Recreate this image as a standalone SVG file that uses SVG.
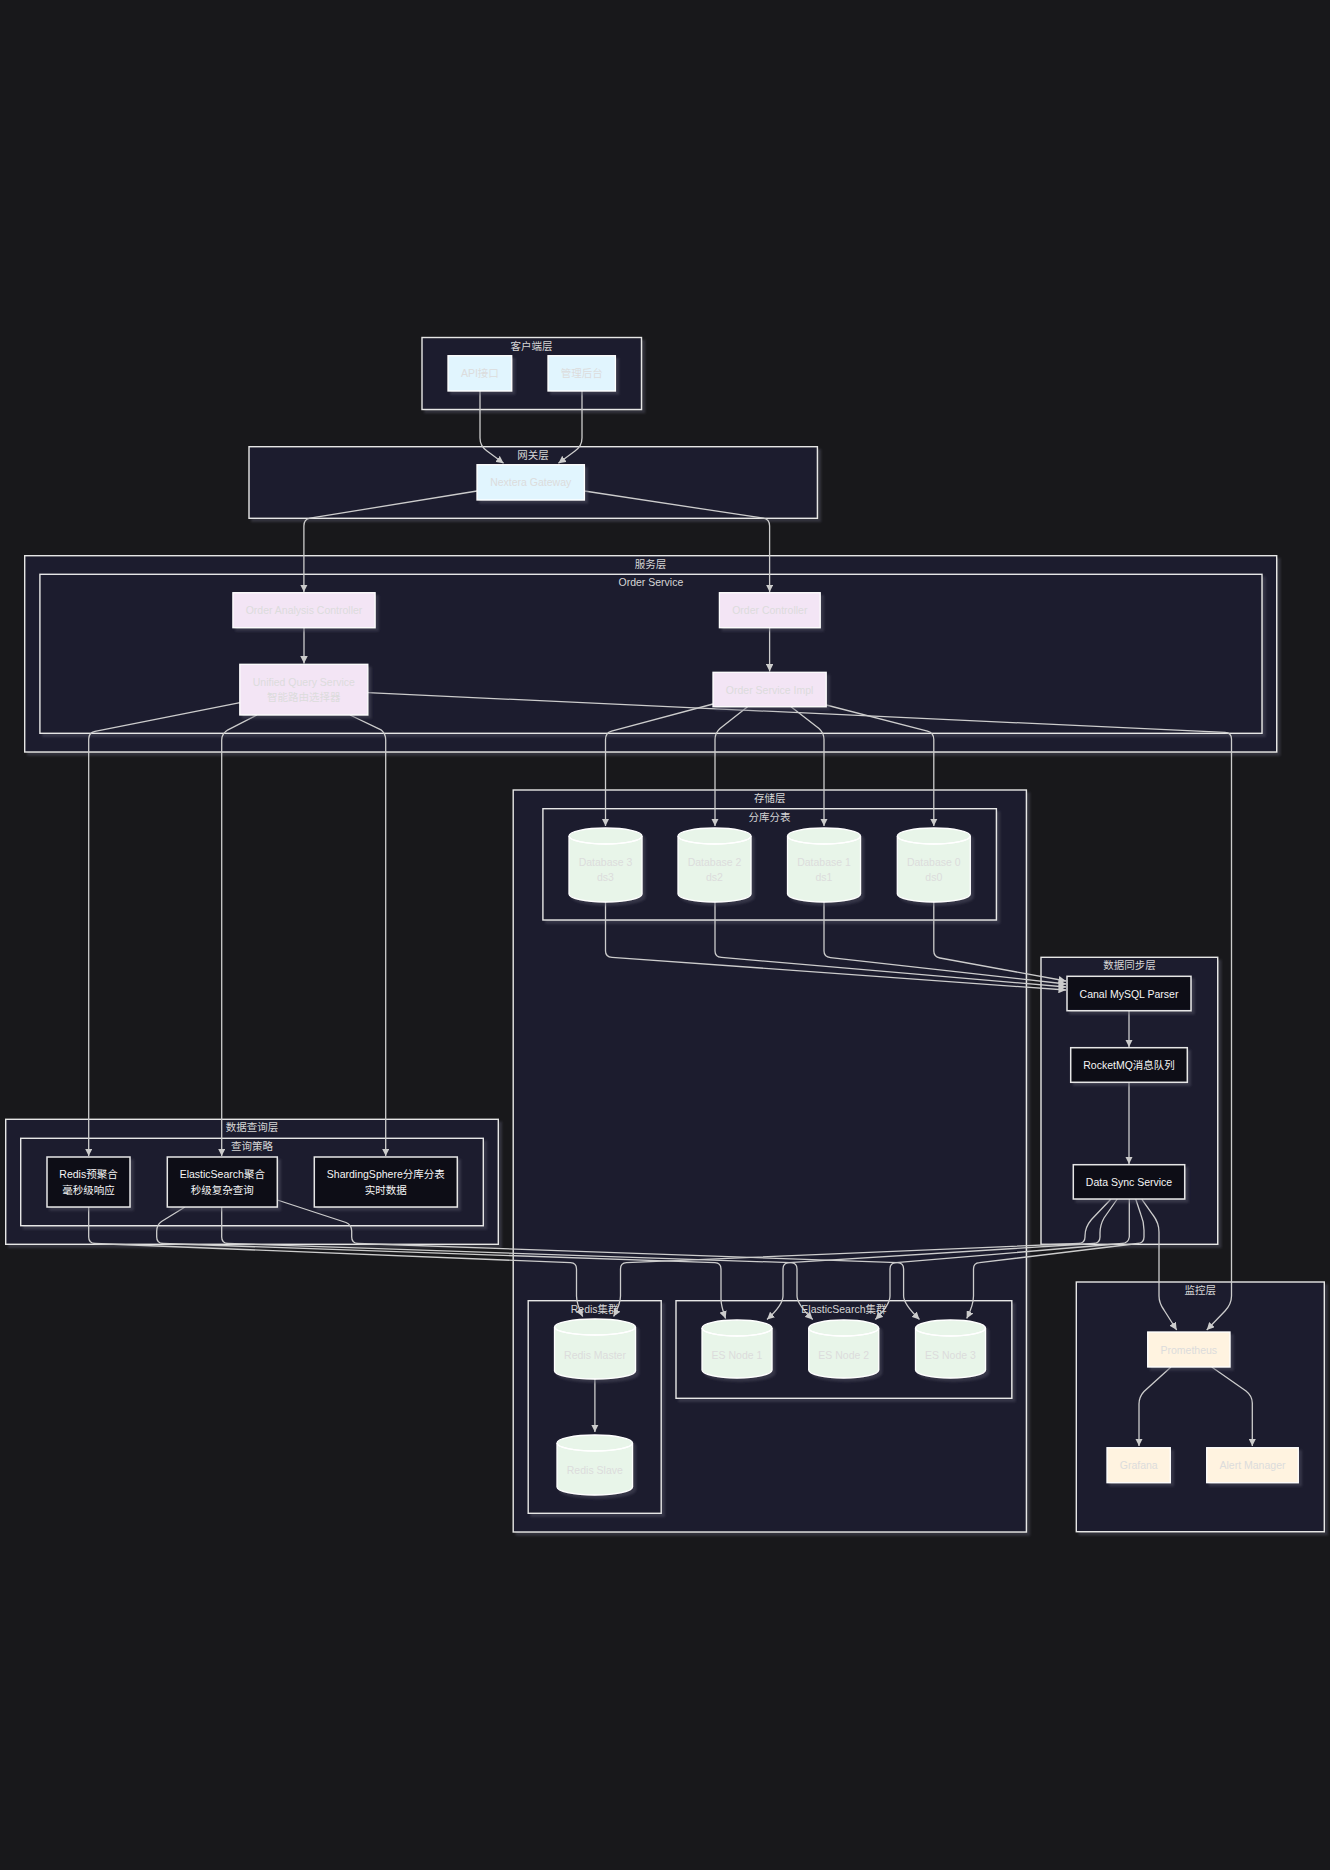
<svg xmlns="http://www.w3.org/2000/svg" width="1330" height="1870" viewBox="0 0 1330 1870">
<defs>
<filter id="sh" x="-10%" y="-10%" width="130%" height="130%">
<feDropShadow dx="3" dy="3" stdDeviation="1.2" flood-color="#555566" flood-opacity="0.45"/>
</filter>
<marker id="arr" viewBox="0 0 10 10" refX="10" refY="5" markerUnits="userSpaceOnUse" markerWidth="7.5" markerHeight="7.5" orient="auto">
<path d="M0,0 L10,5 L0,10 z" fill="#cccccc"/>
</marker>
<style>
text{font-family:"Liberation Sans",Arial,"Noto Sans CJK SC",sans-serif;font-size:10.5px;text-anchor:middle;dominant-baseline:central}
.cl rect{fill:#1e1e2e;stroke:#e6e6e6;stroke-width:1.4;filter:url(#sh)}
.cl text{fill:#d6d6d6}
.nd rect,.nd path{stroke:#ffffff;stroke-width:1.3;filter:url(#sh)}
.nd text{fill:#dcdcdc}
.cli rect{fill:#e1f5fe}
.svc rect{fill:#f3e5f5}
.db path{fill:#e8f5e9}
.db path.top{fill:none;filter:none}
.mon rect{fill:#fff3e0}
.dk rect{fill:#0e0e18;stroke:#e6e6e6;stroke-width:1.5}
.dk text{fill:#f5f5f5}
.edges path{fill:none;stroke:#cccccc;stroke-width:1.3;marker-end:url(#arr)}
</style>
</defs>
<rect x="0" y="0" width="1330" height="1870" fill="#18181b"/>

<g id="clusters">
<g class="cl" id="c-client"><rect x="422" y="337.5" width="219.5" height="72"/><text x="531.6" y="345.5">客户端层</text></g>
<g class="cl" id="c-gateway"><rect x="249" y="446.7" width="568.4" height="71.6"/><text x="533" y="454.5">网关层</text></g>
<g class="cl" id="c-service"><rect x="24.7" y="555.7" width="1252" height="196.3"/><text x="650.6" y="563.5">服务层</text></g>
<g class="cl" id="c-order"><rect x="39.9" y="574.3" width="1222.1" height="159"/><text x="650.9" y="582">Order Service</text></g>
<g class="cl" id="c-storage"><rect x="513.2" y="790" width="513.2" height="742"/><text x="769.8" y="797.8">存储层</text></g>
<g class="cl" id="c-shard"><rect x="542.9" y="808.7" width="453.5" height="111.3"/><text x="769.6" y="816.5">分库分表</text></g>
<g class="cl" id="c-sync"><rect x="1041" y="957.3" width="176.7" height="287"/><text x="1129.4" y="965">数据同步层</text></g>
<g class="cl" id="c-query"><rect x="5.7" y="1119.3" width="492.6" height="125"/><text x="252" y="1127">数据查询层</text></g>
<g class="cl" id="c-strategy"><rect x="20.7" y="1138.3" width="462.6" height="87.4"/><text x="252" y="1146">查询策略</text></g>
<g class="cl" id="c-redis"><rect x="528.2" y="1300.7" width="133" height="212.6"/><text x="594.7" y="1308.5">Redis集群</text></g>
<g class="cl" id="c-es"><rect x="676" y="1300.7" width="335.8" height="97.6"/><text x="843.9" y="1308.5">ElasticSearch集群</text></g>
<g class="cl" id="c-monitor"><rect x="1076.3" y="1282" width="248" height="249.7"/><text x="1200.3" y="1289.8">监控层</text></g>
</g>

<g class="edges" id="connectors">
<path d="M480,391 V438 Q480,446 487,451 L503.6,463.3"/>
<path d="M582,391 V438 Q582,446 575,451 L558.4,463.3"/>
<path d="M477,491 L310,518.2 Q303.9,519.3 303.9,526 V592"/>
<path d="M584.4,491 L763.5,518.2 Q769.6,519.3 769.6,526 V592"/>
<path d="M304,627.7 V663.5"/>
<path d="M769.6,627.7 V671.5"/>
<path d="M240,702.7 L95,731.3 Q88.7,732.7 88.7,739 V1156"/>
<path d="M257,715 L228,729.8 Q221.7,733.5 221.7,740 V1156"/>
<path d="M350,715 L381,729.8 Q385.7,733.5 385.7,740 V1156"/>
<path d="M367.8,692.7 L1225,732.4 Q1231.5,732.8 1231.5,739 V1296 Q1231.5,1304 1225,1311 L1206.7,1330"/>
<path d="M713,704 L611.5,731.2 Q605.5,733 605.5,739.5 V826"/>
<path d="M747.6,706.7 L720,728.5 Q715,733 715,739.5 V826"/>
<path d="M791,706.7 L819,728.5 Q824,733 824,739.5 V826"/>
<path d="M826.2,705 L927.5,731.2 Q933.8,733 933.8,739.5 V826"/>
<path d="M605.5,902 V951 Q605.5,957 612,957.3 L1066,990"/>
<path d="M715,902 V951 Q715,957 721.5,957.4 L1066,987"/>
<path d="M824,902 V951 Q824,957 830.5,957.6 L1066,984"/>
<path d="M933.8,902 V951 Q933.8,957 940,958 L1066,981"/>
<path d="M1129,1010.7 V1047"/>
<path d="M1129,1082.3 V1164"/>
<path d="M88.7,1207 V1237 Q88.7,1243.3 95,1243.5 L570.5,1262.7 Q576.5,1263 576.5,1269 V1296 Q576.5,1304 582.7,1316.5"/>
<path d="M185,1207 L161.5,1221.5 Q156.7,1225 156.7,1231 V1237 Q156.7,1243.3 163,1243.5 L715,1262.7 Q721,1263 721,1269 V1299 Q721,1306 725.6,1318.5"/>
<path d="M221.7,1207 V1237 Q221.7,1243.3 228,1243.5 L791,1262.7 Q797,1263 797,1269 V1296 Q797,1304 812.7,1319.5"/>
<path d="M277.3,1200 L346,1222.5 Q351.7,1225 351.7,1231 V1237 Q351.7,1243.3 358,1243.5 L897.6,1262.7 Q903.6,1263 903.6,1269 V1296 Q903.6,1304 919.5,1319.5"/>
<path d="M1111,1199 L1091.5,1219.5 Q1085,1227 1085,1236 V1237 Q1085,1243.3 1078.5,1243.5 L626.5,1262.7 Q620.5,1263 620.5,1269 V1296 Q620.5,1304 613.6,1316.5"/>
<path d="M1117.3,1199 L1104,1218 Q1100,1225 1100,1233 V1237 Q1100,1243.3 1093.5,1243.5 L789,1262.7 Q783,1263 783,1269 V1296 Q783,1305 767,1319.5"/>
<path d="M1129.3,1199 V1237 Q1128.3,1243.3 1122,1243.5 L896,1262.7 Q890,1263 890,1269 V1296 Q890,1305 875.4,1319.5"/>
<path d="M1135.7,1199 L1141,1215 Q1144,1222 1144,1230 V1237 Q1144,1243.3 1137.5,1243.5 L979.5,1262.7 Q973.5,1263 973.5,1269 V1296 Q973.5,1305 966.7,1318.5"/>
<path d="M1141.7,1199 L1153,1215 Q1159,1223 1159,1232 V1296 Q1159,1303 1164,1310 L1176.7,1330"/>
<path d="M594.9,1379 V1432"/>
<path d="M1171,1367 L1144,1391.5 Q1139,1397 1139,1404 V1446"/>
<path d="M1211.7,1367 L1246,1391 Q1252.3,1396 1252.3,1403 V1446"/>
</g>

<g id="nodes">
<g class="nd cli" id="n-api"><rect x="448" y="355.7" width="63.7" height="35.3"/><text x="479.9" y="373.3">API接口</text></g>
<g class="nd cli" id="n-admin"><rect x="548" y="355.7" width="67.4" height="35.3"/><text x="581.7" y="373.3">管理后台</text></g>
<g class="nd cli" id="n-gateway"><rect x="477" y="464.7" width="107.4" height="35.3"/><text x="530.7" y="482.3">Nextera Gateway</text></g>
<g class="nd svc" id="n-oac"><rect x="232.9" y="592.7" width="142.2" height="35"/><text x="304" y="610.2">Order Analysis Controller</text></g>
<g class="nd svc" id="n-oc"><rect x="719.4" y="592.7" width="100.8" height="35"/><text x="769.8" y="610.2">Order Controller</text></g>
<g class="nd svc" id="n-uqs"><rect x="239.8" y="664.3" width="128" height="50.7"/><text x="303.8" y="681.7">Unified Query Service</text><text x="303.8" y="697">智能路由选择器</text></g>
<g class="nd svc" id="n-osi"><rect x="713" y="672.3" width="113.2" height="34.4"/><text x="769.6" y="689.5">Order Service Impl</text></g>

<g class="nd db" id="n-db3"><path d="M569,836 a36.5,8 0 0 0 73,0 a36.5,8 0 0 0 -73,0 v58 a36.5,8 0 0 0 73,0 v-58"/><path class="top" d="M569,836 a36.5,8 0 0 0 73,0"/><text x="605.5" y="862">Database 3</text><text x="605.5" y="877">ds3</text></g>
<g class="nd db" id="n-db2"><path d="M678,836 a36.5,8 0 0 0 73,0 a36.5,8 0 0 0 -73,0 v58 a36.5,8 0 0 0 73,0 v-58"/><path class="top" d="M678,836 a36.5,8 0 0 0 73,0"/><text x="714.5" y="862">Database 2</text><text x="714.5" y="877">ds2</text></g>
<g class="nd db" id="n-db1"><path d="M787.5,836 a36.5,8 0 0 0 73,0 a36.5,8 0 0 0 -73,0 v58 a36.5,8 0 0 0 73,0 v-58"/><path class="top" d="M787.5,836 a36.5,8 0 0 0 73,0"/><text x="824" y="862">Database 1</text><text x="824" y="877">ds1</text></g>
<g class="nd db" id="n-db0"><path d="M897.3,836 a36.5,8 0 0 0 73,0 a36.5,8 0 0 0 -73,0 v58 a36.5,8 0 0 0 73,0 v-58"/><path class="top" d="M897.3,836 a36.5,8 0 0 0 73,0"/><text x="933.8" y="862">Database 0</text><text x="933.8" y="877">ds0</text></g>

<g class="nd dk" id="n-canal"><rect x="1067" y="976.3" width="124" height="34.4"/><text x="1129" y="993.5">Canal MySQL Parser</text></g>
<g class="nd dk" id="n-mq"><rect x="1070.7" y="1047.7" width="116.6" height="34.6"/><text x="1129" y="1065">RocketMQ消息队列</text></g>
<g class="nd dk" id="n-dss"><rect x="1073.3" y="1164.7" width="111.4" height="34.3"/><text x="1129" y="1181.8">Data Sync Service</text></g>

<g class="nd dk" id="n-qredis"><rect x="47" y="1157" width="83" height="50"/><text x="88.5" y="1174.3">Redis预聚合</text><text x="88.5" y="1189.5">毫秒级响应</text></g>
<g class="nd dk" id="n-qes"><rect x="167.3" y="1157" width="110" height="50"/><text x="222.3" y="1174.3">ElasticSearch聚合</text><text x="222.3" y="1189.5">秒级复杂查询</text></g>
<g class="nd dk" id="n-qss"><rect x="314.3" y="1157" width="143" height="50"/><text x="385.8" y="1174.3">ShardingSphere分库分表</text><text x="385.8" y="1189.5">实时数据</text></g>

<g class="nd db" id="n-rmaster"><path d="M554.5,1327 a40.5,8 0 0 0 81,0 a40.5,8 0 0 0 -81,0 v44 a40.5,8 0 0 0 81,0 v-44"/><path class="top" d="M554.5,1327 a40.5,8 0 0 0 81,0"/><text x="595" y="1355">Redis Master</text></g>
<g class="nd db" id="n-rslave"><path d="M557,1443 a37.75,8 0 0 0 75.5,0 a37.75,8 0 0 0 -75.5,0 v44 a37.75,8 0 0 0 75.5,0 v-44"/><path class="top" d="M557,1443 a37.75,8 0 0 0 75.5,0"/><text x="594.8" y="1470">Redis Slave</text></g>
<g class="nd db" id="n-es1"><path d="M702,1328 a35,8 0 0 0 70,0 a35,8 0 0 0 -70,0 v42 a35,8 0 0 0 70,0 v-42"/><path class="top" d="M702,1328 a35,8 0 0 0 70,0"/><text x="737" y="1355">ES Node 1</text></g>
<g class="nd db" id="n-es2"><path d="M808.7,1328 a35,8 0 0 0 70,0 a35,8 0 0 0 -70,0 v42 a35,8 0 0 0 70,0 v-42"/><path class="top" d="M808.7,1328 a35,8 0 0 0 70,0"/><text x="843.7" y="1355">ES Node 2</text></g>
<g class="nd db" id="n-es3"><path d="M915.5,1328 a35,8 0 0 0 70,0 a35,8 0 0 0 -70,0 v42 a35,8 0 0 0 70,0 v-42"/><path class="top" d="M915.5,1328 a35,8 0 0 0 70,0"/><text x="950.5" y="1355">ES Node 3</text></g>

<g class="nd mon" id="n-prom"><rect x="1147.7" y="1332" width="82.3" height="35"/><text x="1188.8" y="1349.5">Prometheus</text></g>
<g class="nd mon" id="n-grafana"><rect x="1107" y="1447.7" width="63.3" height="35"/><text x="1138.7" y="1465.2">Grafana</text></g>
<g class="nd mon" id="n-alert"><rect x="1206.7" y="1447.7" width="91.6" height="35"/><text x="1252.5" y="1465.2">Alert Manager</text></g>
</g>
</svg>
